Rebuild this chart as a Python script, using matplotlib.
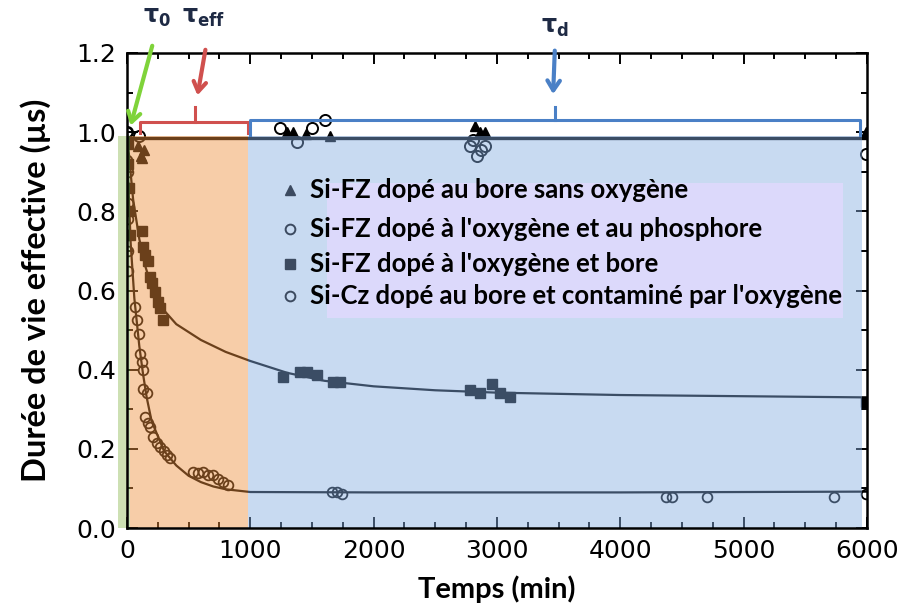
import matplotlib
matplotlib.use('Agg')
import matplotlib.pyplot as plt
from matplotlib.patches import Rectangle
from matplotlib.ticker import MultipleLocator

# --- données ---
tri_t = [90, 110, 120, 135, 1300, 1350, 1450, 1650, 2820, 2860, 2900, 5990]
tri_y = [0.965, 0.94, 0.935, 0.955, 1.0, 1.0, 0.995, 0.99, 1.015, 1.0, 1.0, 1.0]

circ_t = [0, 100, 1240, 1380, 1500, 1605, 2780, 2810, 2840, 2870, 2905, 5990]
circ_y = [1.0, 0.99, 1.01, 0.975, 1.01, 1.03, 0.965, 0.98, 0.94, 0.955, 0.965, 0.945]

sq_t = [8, 12, 16, 20, 25, 120, 130, 150, 170, 186, 205, 227, 250, 268, 292,
        1265, 1403, 1460, 1540, 1670, 1727, 2780, 2860, 2960, 3025, 3105, 5995]
sq_y = [0.97, 0.92, 0.86, 0.80, 0.74, 0.75, 0.71, 0.69, 0.675, 0.635, 0.62, 0.595, 0.57, 0.555, 0.525,
        0.381, 0.394, 0.394, 0.387, 0.369, 0.369, 0.349, 0.342, 0.365, 0.34, 0.332, 0.318]

cz_t = [2, 3, 4, 5, 6, 7, 8, 9, 10, 12, 65, 80, 95, 105, 118, 130, 130, 160, 146, 170, 186, 211,
        240, 268, 300, 324, 349, 535, 580, 616, 660, 697, 740, 778, 819, 1660, 1700, 1740,
        4370, 4420, 4700, 5730, 5990]
cz_y = [1.0, 0.97, 0.93, 0.9, 0.86, 0.82, 0.78, 0.74, 0.7, 0.65, 0.558, 0.525, 0.49, 0.44, 0.42,
        0.40, 0.35, 0.34, 0.28, 0.265, 0.255, 0.23, 0.215, 0.205, 0.195, 0.185, 0.177, 0.142, 0.14,
        0.142, 0.135, 0.134, 0.125, 0.116, 0.109, 0.09, 0.09, 0.085, 0.078, 0.078, 0.078, 0.078, 0.085]

# courbes d'ajustement (relevées)
top_fit_t = [0, 6000]
top_fit_y = [0.985, 0.985]
sq_fit_t = [0, 20, 50, 100, 150, 200, 300, 400, 600, 800, 1000, 1300, 1600, 2000, 2500, 3000, 4000, 5000, 6000]
sq_fit_y = [1.0, 0.93, 0.83, 0.73, 0.66, 0.61, 0.55, 0.515, 0.475, 0.445, 0.422, 0.392, 0.372, 0.358,
            0.348, 0.342, 0.336, 0.333, 0.330]
cz_fit_t = [0, 10, 30, 60, 100, 130, 160, 200, 300, 400, 500, 600, 700, 800, 1000, 2000, 4000, 6000]
cz_fit_y = [1.0, 0.88, 0.72, 0.58, 0.46, 0.39, 0.33, 0.27, 0.195, 0.158, 0.132, 0.116, 0.105, 0.098,
            0.091, 0.09, 0.09, 0.092]

labels = ["Si-FZ dopé au bore sans oxygène",
          "Si-FZ dopé à l'oxygène et au phosphore",
          "Si-FZ dopé à l'oxygène et bore",
          "Si-Cz dopé au bore et contaminé par l'oxygène"]

# zones (t0, teff, td)
zones = [(-73, 24, '#90bc58'), (24, 981, '#ef903e'), (981, 5961, '#85ade2')]

fig = plt.figure(figsize=(9.03, 6.14), dpi=100)
ax = fig.add_axes([0.1406, 0.140, 0.8194, 0.7737])

ax.plot(top_fit_t, top_fit_y, color='k', lw=2.4, zorder=2)
ax.plot(sq_fit_t, sq_fit_y, color='k', lw=1.6, zorder=2)
ax.plot(cz_fit_t, cz_fit_y, color='k', lw=1.6, zorder=2)

ax.plot(tri_t, tri_y, '^', color='k', ms=7, ls='none', zorder=3)
ax.plot(circ_t, circ_y, 'o', mec='k', mfc='none', mew=1.4, ms=8, ls='none', zorder=3)
ax.plot(sq_t, sq_y, 's', color='k', ms=7, ls='none', zorder=3)
ax.plot(cz_t, cz_y, 'o', mec='k', mfc='none', mew=1.3, ms=7, ls='none', zorder=3)

# surcouches colorées
for x0, x1, c in zones:
    ax.add_patch(Rectangle((x0, 0), x1 - x0, 0.99, facecolor=c, edgecolor='none',
                           alpha=0.45, zorder=4, clip_on=False))

ax.set_xlim(0, 6000)
ax.set_ylim(0, 1.2)
ax.xaxis.set_major_locator(MultipleLocator(1000))
ax.xaxis.set_minor_locator(MultipleLocator(250))
ax.yaxis.set_major_locator(MultipleLocator(0.2))
ax.yaxis.set_minor_locator(MultipleLocator(0.1))
ax.yaxis.set_major_formatter(plt.FuncFormatter(lambda v, p: f'{v:.1f}'))
ax.tick_params(which='both', direction='in', top=True, right=True, width=1.4, zorder=5)
ax.tick_params(which='major', length=8, labelsize=18, pad=8)
ax.tick_params(which='minor', length=4)
for s in ax.spines.values():
    s.set_linewidth(1.8)
    s.set_zorder(6)

ax.set_ylabel('Durée de vie effective (µs)', fontsize=23.5, fontweight='bold', family='Lato', labelpad=18)
ax.set_xlabel('Temps (min)', fontsize=21, fontweight='bold', family='Lato', labelpad=9)

# légende
ax.add_patch(Rectangle((0.27, 0.442), 0.698, 0.284, transform=ax.transAxes,
                       facecolor='#dcd9fb', edgecolor='none', zorder=6))
leg_y = [0.712, 0.629, 0.556, 0.488]
mk = [dict(marker='^', color='#3c4a60', ms=7), dict(marker='o', mec='#3c4a60', mfc='none', mew=1.4, ms=7),
      dict(marker='s', color='#3c4a60', ms=7), dict(marker='o', mec='#3c4a60', mfc='none', mew=1.4, ms=7)]
for y, lab, m in zip(leg_y, labels, mk):
    ax.plot([0.22], [y], transform=ax.transAxes, ls='none', zorder=7, **m)
    ax.text(0.247, y, lab, transform=ax.transAxes, fontsize=18.5, fontweight='bold',
            family='Lato', va='center', ha='left', zorder=7)

# accolades et flèches
red = '#d0504e'
blue = '#4a80c6'
green = '#7fd33a'
ax.plot([105, 105, 981, 981], [0.998, 1.026, 1.026, 0.998], color=red, lw=2.2, zorder=7, clip_on=False)
ax.plot([550, 550], [1.026, 1.064], color=red, lw=2.2, zorder=7)
ax.plot([1000, 1000, 5945, 5945], [0.993, 1.031, 1.031, 0.993], color=blue, lw=2.2, zorder=7, clip_on=False)
ax.plot([3470, 3470], [1.031, 1.064], color=blue, lw=2.2, zorder=7)

arrow = dict(arrowstyle='->,head_length=0.7,head_width=0.45', lw=3)
ax.annotate('', xy=(24, 1.01), xytext=(211, 1.225), annotation_clip=False,
            arrowprops=dict(color=green, **arrow), zorder=8)
ax.annotate('', xy=(568, 1.086), xytext=(640, 1.215), annotation_clip=False,
            arrowprops=dict(color=red, **arrow), zorder=8)
ax.annotate('', xy=(3455, 1.089), xytext=(3470, 1.213), annotation_clip=False,
            arrowprops=dict(color=blue, **arrow), zorder=8)

for x, y, s in [(240, 1.29, r'$\mathbf{\tau_0}$'), (620, 1.29, r'$\mathbf{\tau_{eff}}$'),
                (3470, 1.265, r'$\mathbf{\tau_d}$')]:
    ax.text(x, y, s, fontsize=17, color='#1e2a44', ha='center', va='center', clip_on=False)

fig.savefig('out.png', dpi=100)
